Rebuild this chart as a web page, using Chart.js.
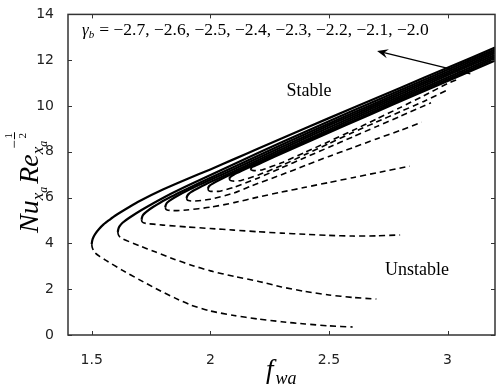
<!DOCTYPE html>
<html>
<head>
<meta charset="utf-8">
<script src="https://cdn.jsdelivr.net/npm/chart.js@4.4.1/dist/chart.umd.min.js"></script>
<style>
  html, body { margin: 0; padding: 0; background: #fff; }
  #wrap { width: 498px; height: 387px; }
</style>
</head>
<body>
<div id="wrap"><canvas id="chart" width="498" height="387"></canvas></div>
<script>
// axis ticks
const xTicks = [1.5, 2, 2.5, 3];
const yTicks = [0, 2, 4, 6, 8, 10, 12, 14];
const gammaValues = ['−2.7', '−2.6', '−2.5', '−2.4', '−2.3', '−2.2', '−2.1', '−2.0'];

// stable (solid) and unstable (dashed) branches, [f_wa, Nu Re^-1/2]
const c1Stable = [[1.5,3.97],[1.502,4.12],[1.507,4.27],[1.515,4.42],[1.53,4.62],[1.55,4.83],[1.575,5.03],[1.6,5.22],[1.66,5.6],[1.7,5.84],[1.8,6.35],[1.9,6.8],[2.0,7.23],[2.1,7.68],[2.2,8.13],[2.4,9.03],[2.6,9.91],[2.8,10.79],[3.0,11.67],[3.2,12.55]];
const c2Stable = [[1.61,4.5],[1.612,4.62],[1.617,4.74],[1.63,4.9],[1.66,5.13],[1.71,5.46],[1.81,6.04],[1.91,6.55],[2.11,7.51],[2.31,8.46],[2.6,9.79],[2.8,10.69],[3.0,11.58],[3.2,12.47]];
const c3Stable = [[1.71,5.03],[1.712,5.14],[1.717,5.25],[1.73,5.38],[1.76,5.6],[1.81,5.91],[1.91,6.42],[2.01,6.91],[2.21,7.87],[2.41,8.82],[2.6,9.69],[2.8,10.6],[3.0,11.5],[3.2,12.39]];
const c4Stable = [[1.81,5.58],[1.812,5.67],[1.817,5.77],[1.83,5.88],[1.86,6.07],[1.91,6.34],[2.01,6.82],[2.11,7.29],[2.31,8.25],[2.51,9.2],[2.7,10.06],[2.9,10.97],[3.2,12.31]];
const c5Stable = [[1.9,5.98],[1.902,6.06],[1.907,6.14],[1.92,6.25],[1.95,6.42],[2.0,6.68],[2.1,7.15],[2.2,7.63],[2.4,8.59],[2.6,9.52],[2.8,10.43],[3.0,11.34],[3.2,12.23]];
const c6Stable = [[1.99,6.38],[1.992,6.45],[1.997,6.52],[2.01,6.61],[2.04,6.78],[2.09,7.03],[2.19,7.5],[2.29,7.98],[2.49,8.92],[2.69,9.85],[2.9,10.8],[3.2,12.15]];
const c7Stable = [[2.08,6.82],[2.082,6.87],[2.087,6.93],[2.1,7.01],[2.13,7.16],[2.18,7.4],[2.28,7.87],[2.38,8.34],[2.58,9.26],[2.78,10.18],[3.0,11.17],[3.2,12.07]];
const c8Stable = [[2.17,7.25],[2.172,7.29],[2.177,7.34],[2.19,7.4],[2.22,7.54],[2.27,7.78],[2.37,8.24],[2.47,8.7],[2.67,9.61],[2.87,10.51],[3.2,11.99]];

const c1Unstable = [[1.5,3.97],[1.502,3.83],[1.507,3.7],[1.515,3.58],[1.535,3.42],[1.56,3.26],[1.63,2.82],[1.7,2.42],[1.77,2.03],[1.85,1.62],[1.92,1.3],[2.0,1.05],[2.1,0.85],[2.2,0.7],[2.3,0.58],[2.4,0.48],[2.5,0.4],[2.6,0.35]];
const c2Unstable = [[1.61,4.5],[1.612,4.39],[1.617,4.3],[1.63,4.2],[1.7,3.9],[1.77,3.62],[1.85,3.3],[1.92,3.05],[2.0,2.8],[2.1,2.56],[2.2,2.35],[2.3,2.1],[2.4,1.9],[2.5,1.75],[2.6,1.64],[2.7,1.57]];
const c3Unstable = [[1.71,5.03],[1.712,4.95],[1.718,4.9],[1.73,4.87],[1.76,4.84],[1.8,4.8],[1.9,4.72],[2.0,4.65],[2.1,4.58],[2.2,4.51],[2.3,4.45],[2.4,4.4],[2.5,4.35],[2.6,4.32],[2.7,4.33],[2.8,4.37]];
const c4Unstable = [[1.81,5.58],[1.812,5.5],[1.818,5.46],[1.83,5.44],[1.86,5.43],[1.9,5.46],[2.0,5.58],[2.1,5.78],[2.2,6.02],[2.3,6.24],[2.4,6.45],[2.5,6.66],[2.6,6.87],[2.7,7.08],[2.84,7.37]];
const c5Unstable = [[1.9,5.98],[1.902,5.91],[1.908,5.87],[1.92,5.85],[1.95,5.86],[2.0,5.93],[2.1,6.2],[2.17,6.5],[2.3,7.0],[2.4,7.4],[2.5,7.8],[2.6,8.18],[2.7,8.56],[2.8,8.93],[2.89,9.29]];
const c6Unstable = [[1.99,6.38],[1.992,6.32],[1.998,6.28],[2.01,6.27],[2.04,6.28],[2.1,6.45],[2.2,6.85],[2.3,7.3],[2.4,7.75],[2.5,8.2],[2.6,8.65],[2.7,9.1],[2.8,9.55],[2.93,10.14]];
const c7Unstable = [[2.08,6.82],[2.082,6.77],[2.088,6.74],[2.1,6.72],[2.13,6.75],[2.2,6.98],[2.3,7.4],[2.4,7.88],[2.5,8.36],[2.6,8.84],[2.7,9.3],[2.8,9.75],[2.9,10.2],[3.0,10.7]];
const c8Unstable = [[2.17,7.25],[2.172,7.21],[2.178,7.19],[2.19,7.18],[2.22,7.22],[2.3,7.52],[2.4,7.98],[2.5,8.45],[2.6,8.93],[2.7,9.43],[2.8,9.93],[2.9,10.45],[3.0,10.98],[3.05,11.2]];

const stableBranches = [c1Stable, c2Stable, c3Stable, c4Stable, c5Stable, c6Stable, c7Stable, c8Stable];
const unstableBranches = [c1Unstable, c2Unstable, c3Unstable, c4Unstable, c5Unstable, c6Unstable, c7Unstable, c8Unstable];

// arrow of the gamma note, tail then head, in data units
const arrowTail = [3.096, 11.4];
const arrowHead = [2.703, 12.4];

const toPts = arr => arr.map(p => ({x: p[0], y: p[1]}));

const datasets = [];
stableBranches.forEach(b => datasets.push({
    data: toPts(b), showLine: true, borderColor: '#000', borderWidth: 2.2,
    pointRadius: 0, fill: false, tension: 0.2
}));
unstableBranches.forEach(b => datasets.push({
    data: toPts(b), showLine: true, borderColor: '#000', borderWidth: 1.6,
    borderDash: [6, 4], pointRadius: 0, fill: false, tension: 0.2
}));

const SERIF = '"Liberation Serif", "DejaVu Serif", serif';

const decorPlugin = {
    id: 'decor',
    afterDraw(chart) {
        const ctx = chart.ctx;
        const a = chart.chartArea;
        const xs = chart.scales.x, ys = chart.scales.y;
        ctx.save();

        // frame
        ctx.strokeStyle = '#333';
        ctx.lineWidth = 1.5;
        ctx.strokeRect(a.left, a.top, a.right - a.left, a.bottom - a.top);

        // inward ticks on all sides
        ctx.lineWidth = 1;
        ctx.beginPath();
        xTicks.forEach(v => {
            const px = Math.round(xs.getPixelForValue(v)) + 0.5;
            ctx.moveTo(px, a.bottom); ctx.lineTo(px, a.bottom - 4);
            ctx.moveTo(px, a.top); ctx.lineTo(px, a.top + 4);
        });
        yTicks.forEach(v => {
            const py = Math.round(ys.getPixelForValue(v)) + 0.5;
            ctx.moveTo(a.left, py); ctx.lineTo(a.left + 4, py);
            ctx.moveTo(a.right, py); ctx.lineTo(a.right - 4, py);
        });
        ctx.stroke();

        ctx.fillStyle = '#000';
        ctx.textBaseline = 'alphabetic';

        // gamma note
        let x = 82;
        const base = 35;
        ctx.font = 'italic 17px ' + SERIF;
        ctx.fillText('γ', x, base);
        x += ctx.measureText('γ').width;
        ctx.font = 'italic 11px ' + SERIF;
        ctx.fillText('b', x, base + 3);
        x += ctx.measureText('b').width + 5;
        ctx.font = '17.5px ' + SERIF;
        ctx.fillText('= ' + gammaValues.join(', '), x, base);

        // arrow
        const tx = xs.getPixelForValue(arrowTail[0]), ty = ys.getPixelForValue(arrowTail[1]);
        const hx = xs.getPixelForValue(arrowHead[0]), hy = ys.getPixelForValue(arrowHead[1]);
        const ang = Math.atan2(hy - ty, hx - tx);
        ctx.strokeStyle = '#000';
        ctx.lineWidth = 1.3;
        ctx.beginPath();
        ctx.moveTo(tx, ty);
        ctx.lineTo(hx - 6 * Math.cos(ang), hy - 6 * Math.sin(ang));
        ctx.stroke();
        ctx.beginPath();
        ctx.moveTo(hx, hy);
        ctx.lineTo(hx - 12 * Math.cos(ang - 0.4), hy - 12 * Math.sin(ang - 0.4));
        ctx.lineTo(hx - 7 * Math.cos(ang), hy - 7 * Math.sin(ang));
        ctx.lineTo(hx - 12 * Math.cos(ang + 0.4), hy - 12 * Math.sin(ang + 0.4));
        ctx.closePath();
        ctx.fill();

        // region labels
        ctx.font = '18px ' + SERIF;
        ctx.textAlign = 'center';
        ctx.fillText('Stable', 309, 96);
        ctx.fillText('Unstable', 417, 275);
        ctx.textAlign = 'left';

        // x axis title f_wa
        ctx.font = 'italic 27px ' + SERIF;
        ctx.fillText('f', 266, 378);
        let fx = 266 + ctx.measureText('f').width + 2;
        ctx.font = 'italic 18px ' + SERIF;
        ctx.fillText('wa', fx, 384);

        // y axis title Nu_{x_a} Re_{x_a}^{-1/2}
        ctx.translate(38, 233);
        ctx.rotate(-Math.PI / 2);
        let yx = 0;
        const big = 'italic 28px ' + SERIF, sub = 'italic 17px ' + SERIF, sub2 = 'italic 12px ' + SERIF;
        const part = (t, f, dy) => { ctx.font = f; ctx.fillText(t, yx, dy); yx += ctx.measureText(t).width; };
        part('Nu', big, 0);
        part('x', sub, 5);
        part('a', sub2, 9);
        yx += 3;
        part('Re', big, 0);
        part('x', sub, 5);
        part('a', sub2, 9);
        yx -= 8;
        // superscript -1/2
        ctx.font = '15px ' + SERIF;
        ctx.fillText('−', yx, -19);
        yx += ctx.measureText('−').width + 1;
        ctx.font = '11px ' + SERIF;
        ctx.textAlign = 'center';
        const fw = 7;
        ctx.fillText('1', yx + fw / 2, -26);
        ctx.fillText('2', yx + fw / 2, -12);
        ctx.fillRect(yx, -24, fw, 1);
        ctx.restore();
    }
};

new Chart(document.getElementById('chart'), {
    type: 'scatter',
    data: { datasets },
    options: {
        responsive: false,
        animation: false,
        devicePixelRatio: 1,
        layout: { padding: { top: 6, right: 3, left: 0, bottom: 0 } },
        plugins: { legend: { display: false }, tooltip: { enabled: false } },
        scales: {
            x: {
                type: 'linear', min: 1.4, max: 3.2,
                grid: { display: false }, border: { display: false },
                afterBuildTicks: s => { s.ticks = xTicks.map(v => ({ value: v })); },
                afterFit: s => { s.height = 52; },
                ticks: { padding: 9, color: '#222', font: { family: '"DejaVu Sans"', size: 14 }, callback: v => String(v) }
            },
            y: {
                type: 'linear', min: 0, max: 14,
                grid: { display: false }, border: { display: false },
                afterBuildTicks: s => { s.ticks = yTicks.map(v => ({ value: v })); },
                afterFit: s => { s.width = 68; },
                ticks: { padding: 6, color: '#222', font: { family: '"DejaVu Sans"', size: 14 }, callback: v => String(v) }
            }
        }
    },
    plugins: [decorPlugin]
});
</script>
</body>
</html>
